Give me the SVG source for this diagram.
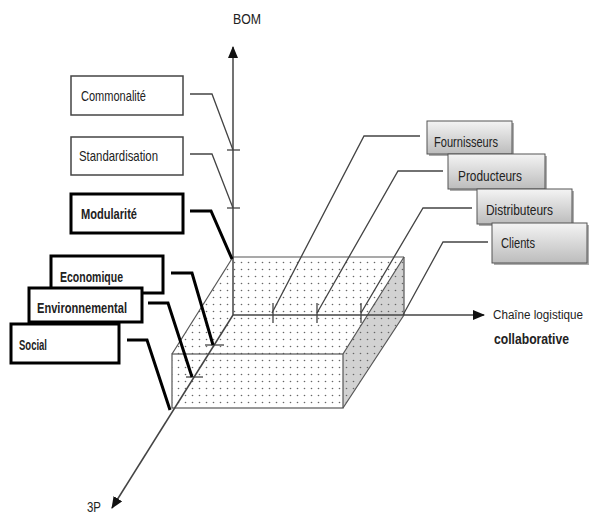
<svg xmlns="http://www.w3.org/2000/svg" width="592" height="515" viewBox="0 0 592 515">
<style>
  text { font-family: "Liberation Sans", Arial, sans-serif; font-size: 14.5px; fill: #222; }
  .b { font-weight: bold; }
  .edge { stroke: #555; stroke-width: 1.2; fill: none; }
  .axis { stroke: #444; stroke-width: 1.5; fill: none; }
  .tick { stroke: #444; stroke-width: 1.3; }
  .thin { stroke: #444; stroke-width: 1.3; fill: none; }
  .thick { stroke: #000; stroke-width: 3; fill: none; stroke-linejoin: miter; }
  .nthin { fill: #fff; stroke: #444; stroke-width: 1.5; }
  .nthick { fill: #fff; stroke: #000; stroke-width: 3; }
  .ngray { fill: url(#grad); stroke: #555; stroke-width: 1; }
  .shadow { fill: #777; opacity: 0.6; }
</style>
<defs>
  <pattern id="dots" width="7" height="7" patternUnits="userSpaceOnUse">
    <circle cx="3.5" cy="3.5" r="0.8" fill="#666"/>
  </pattern>
  <linearGradient id="grad" x1="0" y1="0" x2="0" y2="1">
    <stop offset="0" stop-color="#f4f4f4"/>
    <stop offset="1" stop-color="#bcbcbc"/>
  </linearGradient>
  <marker id="arr" markerWidth="12" markerHeight="10" refX="11" refY="5" orient="auto" markerUnits="userSpaceOnUse">
    <path d="M0,0 L12,5 L0,10 z" fill="#111"/>
  </marker>
</defs>

<g id="box">
  <polygon points="172,354 233,257 404,257 404,315 343,408 172,408" fill="#fff"/>
  <polygon points="343,354 404,257 404,315 343,408" fill="#d2d2d2"/>
  <polygon points="172,354 233,257 404,257 404,315 343,408 172,408" fill="url(#dots)"/>
  <line class="edge" x1="233" y1="257" x2="404" y2="257"/>
  <line class="edge" x1="404" y1="257" x2="404" y2="315"/>
  <line class="edge" x1="233" y1="257" x2="172" y2="354"/>
  <rect class="edge" x="172" y="354" width="171" height="54"/>
  <line class="edge" x1="343" y1="354" x2="404" y2="257"/>
  <line class="edge" x1="343" y1="408" x2="404" y2="315"/>
</g>

<g id="axes">
  <line class="axis" x1="233" y1="315" x2="233" y2="47" marker-end="url(#arr)"/>
  <line class="axis" x1="233" y1="315" x2="484" y2="315" marker-end="url(#arr)"/>
  <line class="axis" x1="233" y1="315" x2="112" y2="508" marker-end="url(#arr)"/>
  <line class="tick" x1="227" y1="150" x2="240" y2="150"/>
  <line class="tick" x1="227" y1="208" x2="240" y2="208"/>
  <line class="tick" x1="273" y1="303" x2="273" y2="323"/>
  <line class="tick" x1="317" y1="303" x2="317" y2="323"/>
  <line class="tick" x1="361" y1="303" x2="361" y2="323"/>
  <line class="tick" x1="205" y1="345" x2="224" y2="345"/>
  <line class="tick" x1="186" y1="377" x2="203" y2="377"/>
  <text x="233" y="24" textLength="28" lengthAdjust="spacingAndGlyphs">BOM</text>
  <text x="87" y="512" textLength="14" lengthAdjust="spacingAndGlyphs">3P</text>
  <text x="493" y="319" style="font-size:12.5px" textLength="90" lengthAdjust="spacingAndGlyphs">Chaîne logistique</text>
  <text x="494" y="344" class="b" textLength="75" lengthAdjust="spacingAndGlyphs">collaborative</text>
</g>

<g id="connectors">
  <polyline class="thin" points="190,94 212,94 233,150"/>
  <polyline class="thin" points="190,154 212,154 233,208"/>
  <polyline class="thick" points="190,211 211,211 232,259"/>
  <polyline class="thick" points="171,273 192,273 213,345"/>
  <polyline class="thick" points="148,303 168,303 192,377"/>
  <polyline class="thick" points="127,340 147,340 170,410"/>
  <polyline class="thin" points="420,136 364,136 272,313"/>
  <polyline class="thin" points="443,171 398,171 317,313"/>
  <polyline class="thin" points="472,208 423,208 361,313"/>
  <polyline class="thin" points="488,242 443,242 403,315"/>
</g>

<g id="commonalite">
  <rect class="nthin" x="71" y="76" width="112" height="39"/>
  <text x="81" y="101" textLength="65" lengthAdjust="spacingAndGlyphs">Commonalité</text>
</g>
<g id="standardisation">
  <rect class="nthin" x="71" y="137" width="112" height="38"/>
  <text x="79" y="161" textLength="79" lengthAdjust="spacingAndGlyphs">Standardisation</text>
</g>
<g id="modularite">
  <rect class="nthick" x="71" y="194" width="112" height="39"/>
  <text x="81" y="219" class="b" textLength="56" lengthAdjust="spacingAndGlyphs">Modularité</text>
</g>
<g id="economique">
  <rect class="nthick" x="51" y="256" width="112" height="37"/>
  <text x="60" y="282" class="b" textLength="63" lengthAdjust="spacingAndGlyphs">Economique</text>
</g>
<g id="environnemental">
  <rect class="nthick" x="29" y="288" width="113" height="34"/>
  <text x="37" y="313" class="b" textLength="90" lengthAdjust="spacingAndGlyphs">Environnemental</text>
</g>
<g id="social">
  <rect class="nthick" x="11" y="324" width="108" height="39"/>
  <text x="19" y="350" class="b" textLength="28" lengthAdjust="spacingAndGlyphs">Social</text>
</g>

<g id="fournisseurs">
  <rect class="shadow" x="429" y="123" width="85" height="33"/>
  <rect class="ngray" x="427" y="121" width="85" height="33"/>
  <text x="434" y="147" textLength="64" lengthAdjust="spacingAndGlyphs">Fournisseurs</text>
</g>
<g id="producteurs">
  <rect class="shadow" x="450" y="156" width="97" height="35"/>
  <rect class="ngray" x="448" y="154" width="97" height="35"/>
  <text x="458" y="181" textLength="64" lengthAdjust="spacingAndGlyphs">Producteurs</text>
</g>
<g id="distributeurs">
  <rect class="shadow" x="479" y="191" width="95" height="35"/>
  <rect class="ngray" x="477" y="189" width="95" height="35"/>
  <text x="486" y="215" textLength="67" lengthAdjust="spacingAndGlyphs">Distributeurs</text>
</g>
<g id="clients">
  <rect class="shadow" x="494" y="225" width="95" height="40"/>
  <rect class="ngray" x="492" y="223" width="95" height="40"/>
  <text x="501" y="248" textLength="34" lengthAdjust="spacingAndGlyphs">Clients</text>
</g>
</svg>
